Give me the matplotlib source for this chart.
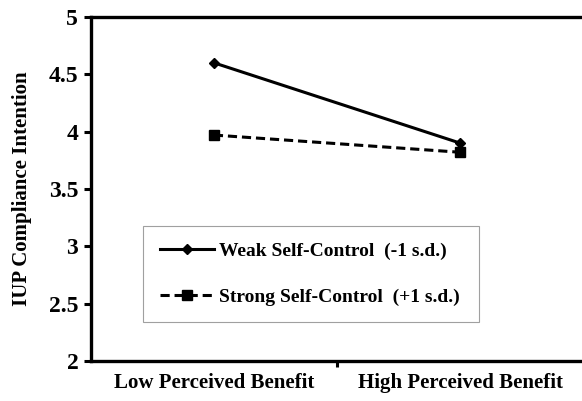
import matplotlib.pyplot as plt

# values
categories = ["Low Perceived Benefit", "High Perceived Benefit"]
weak = [4.60, 3.90]
strong = [3.97, 3.82]
labels = ["Weak Self-Control  (-1 s.d.)", "Strong Self-Control  (+1 s.d.)"]
yticks = [2, 2.5, 3, 3.5, 4, 4.5, 5]
ytick_labels = ["2", "2.5", "3", "3.5", "4", "4.5", "5"]

plt.rcParams["font.family"] = ["Liberation Serif", "DejaVu Serif"]
plt.rcParams["font.weight"] = "bold"

fig = plt.figure(figsize=(5.82, 4.01), dpi=100)
ax = fig.add_axes([0.156, 0.0998, 0.846, 0.858])

x = [0.5, 1.5]
ax.plot(x, weak, color="black", lw=2.2, marker="D", ms=5.5, label=labels[0])
ax.plot(x, strong, color="black", lw=2.2, ls=(0, (3, 1.6)), marker="s", ms=6.5,
        label=labels[1])

ax.set_xlim(0, 2)
ax.set_ylim(2, 5)
ax.set_yticks(yticks)
ax.set_yticklabels(ytick_labels, fontsize=17, fontweight="bold")
# category tick in the middle, labels centred under each group
ax.set_xticks([1])
ax.set_xticklabels([""])
ax.set_xticks(x, minor=True)
ax.set_xticklabels(categories, minor=True, fontsize=15, fontweight="bold")
ax.tick_params(axis="x", which="minor", length=0, pad=9)
ax.tick_params(axis="x", which="major", length=4, width=2.2, direction="out")
ax.tick_params(axis="y", length=5, width=2.2, direction="out", pad=4)
ax.set_ylabel("IUP Compliance Intention", fontsize=15, fontweight="bold", labelpad=12)

for s in ["left", "bottom", "top"]:
    ax.spines[s].set_linewidth(2.4)
ax.spines["right"].set_visible(False)

leg = ax.legend(loc="lower left", bbox_to_anchor=(0.106, 0.113, 0.682, 0.274),
                mode="expand", borderaxespad=0, handlelength=2.8,
                labelspacing=1.45, borderpad=0.85, handletextpad=0.25,
                fancybox=False, prop={"weight": "bold", "size": 14})
leg.get_frame().set_edgecolor("#888888")
leg.get_frame().set_linewidth(0.8)

fig.savefig("out.png", dpi=100)
